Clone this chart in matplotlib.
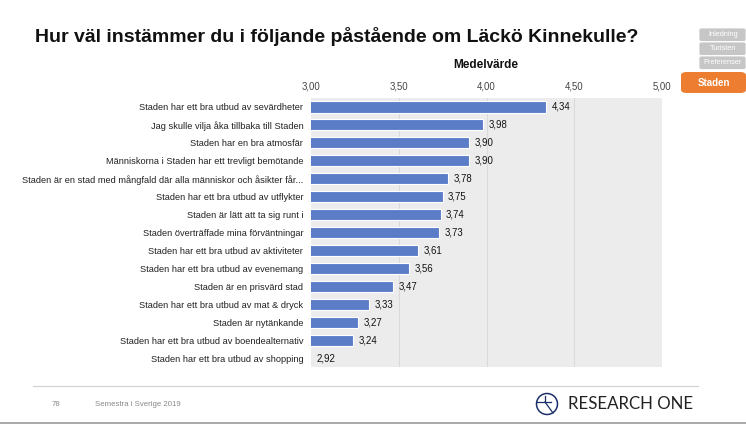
import matplotlib
matplotlib.use("Agg")
import matplotlib.pyplot as plt
from matplotlib.patches import FancyBboxPatch, Ellipse
from matplotlib.lines import Line2D

plt.rcParams['font.family'] = ['Liberation Sans', 'DejaVu Sans']

categories = [
    "Staden har ett bra utbud av sevärdheter",
    "Jag skulle vilja åka tillbaka till Staden",
    "Staden har en bra atmosfär",
    "Människorna i Staden har ett trevligt bemötande",
    "Staden är en stad med mångfald där alla människor och åsikter får...",
    "Staden har ett bra utbud av utflykter",
    "Staden är lätt att ta sig runt i",
    "Staden överträffade mina förväntningar",
    "Staden har ett bra utbud av aktiviteter",
    "Staden har ett bra utbud av evenemang",
    "Staden är en prisvärd stad",
    "Staden har ett bra utbud av mat & dryck",
    "Staden är nytänkande",
    "Staden har ett bra utbud av boendealternativ",
    "Staden har ett bra utbud av shopping",
]
values = [4.34, 3.98, 3.90, 3.90, 3.78, 3.75, 3.74, 3.73, 3.61, 3.56, 3.47, 3.33, 3.27, 3.24, 2.92]
xticks = [3.0, 3.5, 4.0, 4.5, 5.0]
tabs = ["Inledning", "Turisten", "Preferenser"]
active_tab = "Staden"

W, H = 746, 425
fig = plt.figure(figsize=(W / 100, H / 100), dpi=100)

def fx(px):
    return px / W

def fy(py):
    return 1 - py / H

ax = fig.add_axes([fx(311), fy(367), fx(662) - fx(311), fy(98) - fy(367)])
ax.set_facecolor('#ececec')
n = len(categories)
ypos = list(range(n))
ax.barh(ypos, values, left=0, height=0.62, color='#5b7dc8', edgecolor='white', linewidth=0.8, zorder=3)
ax.set_xlim(3.0, 5.0)
ax.set_ylim(n - 0.5, -0.5)
ax.set_yticks(ypos)
ax.set_yticklabels(categories, fontsize=6.7, color='#222222')
ax.set_xticks(xticks)
ax.set_xticklabels([f"{t:.2f}".replace('.', ',') for t in xticks], fontsize=6.9, color='#444444')
ax.xaxis.tick_top()
ax.tick_params(axis='both', length=0)
ax.tick_params(axis='y', pad=5.5)
ax.tick_params(axis='x', pad=5)
for t in xticks[1:-1]:
    ax.axvline(t, color='#dadada', linewidth=0.8, zorder=1)
for s in ax.spines.values():
    s.set_visible(False)
for i, v in enumerate(values):
    ax.text(max(v, 3.0) + 0.03, i, f"{v:.2f}".replace('.', ','), va='center', ha='left',
            fontsize=6.9, color='#111111', zorder=4)

# title and axis title
fig.text(fx(35), fy(36), "Hur väl instämmer du i följande påstående om Läckö Kinnekulle?",
         fontsize=14, fontweight='bold', ha='left', va='center', color='#111111')
fig.text(fx(486), fy(65), "Medelvärde", fontsize=8.5, fontweight='bold', ha='center', va='center', color='#111111')

# tabs
tab_y = [28, 42, 56]
for lab, ty in zip(tabs, tab_y):
    p = FancyBboxPatch((fx(699), fy(ty + 13.5)), fx(746) - fx(699), fy(ty) - fy(ty + 13.5),
                       boxstyle="round,pad=0,rounding_size=0.004", transform=fig.transFigure,
                       facecolor='#c6c6c6', edgecolor='white', linewidth=0.6)
    fig.patches.append(p)
    fig.text(fx(723), fy(ty + 7), lab, fontsize=5.3, color='white', ha='center', va='center')
p = FancyBboxPatch((fx(681), fy(93)), fx(746) - fx(681), fy(72) - fy(93),
                   boxstyle="round,pad=0,rounding_size=0.008", transform=fig.transFigure,
                   facecolor='#ed7d31', edgecolor='none')
fig.patches.append(p)
fig.text(fx(714), fy(82.5), active_tab, fontsize=7, fontweight='bold', color='white', ha='center', va='center')

# footer
fig.add_artist(Line2D([fx(33), fx(698)], [fy(386), fy(386)], color='#d0d0d0', linewidth=0.8))
fig.text(fx(52), fy(405), "78", fontsize=5.6, color='#888888', ha='left', va='center')
fig.text(fx(95), fy(405), "Semestra i Sverige 2019", fontsize=5.6, color='#888888', ha='left', va='center')
fig.add_artist(Line2D([0, 1], [fy(423), fy(423)], color='#999999', linewidth=1.2))

# logo
r = 10.5
circ = Ellipse((fx(547), fy(404)), 2 * r / W, 2 * r / H, transform=fig.transFigure, facecolor='none',
               edgecolor='#1c2f6b', linewidth=1.1)
fig.patches.append(circ)
fig.add_artist(Line2D([fx(537), fx(551)], [fy(402), fy(402)], color='#1c2f6b', linewidth=0.9))
fig.add_artist(Line2D([fx(545), fx(545)], [fy(396), fy(402)], color='#1c2f6b', linewidth=0.9))
fig.add_artist(Line2D([fx(545), fx(553)], [fy(402), fy(413)], color='#1c2f6b', linewidth=0.9))
fig.text(fx(568), fy(404), "RESEARCH ONE", fontsize=12.2, color='#222222', ha='left', va='center',
         family=['Lato', 'DejaVu Sans'])

fig.savefig("out.png", dpi=100)
